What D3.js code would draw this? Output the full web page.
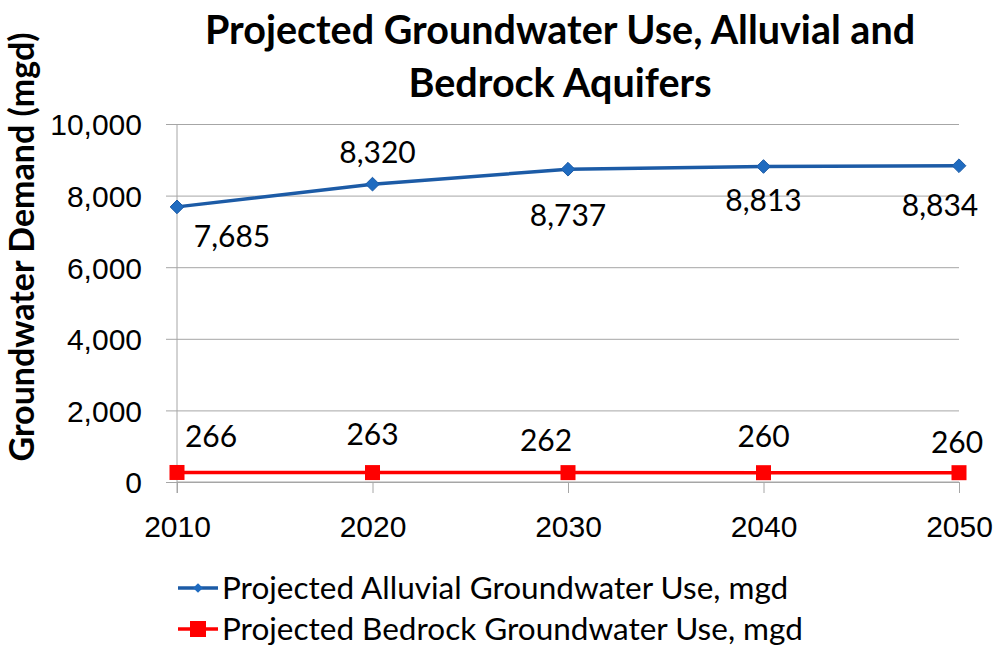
<!DOCTYPE html>
<html>
<head>
<meta charset="utf-8">
<script src="https://cdn.jsdelivr.net/npm/d3@7"></script>
<style>
  body { margin: 0; background: #fff; }
  svg { font-family: Lato, "Open Sans", sans-serif; }
</style>
</head>
<body>
<svg id="chart" width="997" height="648"></svg>
<script>
var years = [2010, 2020, 2030, 2040, 2050];
var alluvial = [7685, 8320, 8737, 8813, 8834];
var bedrock = [266, 263, 262, 260, 260];
var yTicks = [0, 2000, 4000, 6000, 8000, 10000];
var seriesNames = [
  "Projected Alluvial Groundwater Use, mgd",
  "Projected Bedrock Groundwater Use, mgd",
];

var dimensions = {
  width: 997,
  height: 648,
  margin: { top: 124, right: 38, bottom: 166, left: 177 },
};

var svg = d3.select("#chart");

var xScale = d3
  .scalePoint()
  .domain(years)
  .range([dimensions.margin.left, dimensions.width - dimensions.margin.right]);

var yScale = d3
  .scaleLinear()
  .domain([0, 10000])
  .range([dimensions.height - dimensions.margin.bottom, dimensions.margin.top]);

// gridlines + y labels
var yAxisgen = d3
  .axisLeft(yScale)
  .tickValues(yTicks)
  .tickSize(-(xScale.range()[1] - xScale.range()[0]) - 11)
  .tickPadding(24)
  .tickFormat(d3.format(","));
var yAxis = svg
  .append("g")
  .attr("transform", `translate(${dimensions.margin.left - 11},0)`)
  .call(yAxisgen);
yAxis.select(".domain").remove();
yAxis.selectAll("line").attr("stroke", "#a6a6a6");
yAxis.selectAll("text").attr("font-size", 30).attr("fill", "#000").attr("dy", "0.36em");

// vertical axis line
svg
  .append("line")
  .attr("x1", dimensions.margin.left)
  .attr("x2", dimensions.margin.left)
  .attr("y1", yScale(10000))
  .attr("y2", yScale(0) + 11)
  .attr("stroke", "#a6a6a6");

// x axis
var xAxisgen = d3.axisBottom(xScale).tickSize(11).tickPadding(22);
var xAxis = svg
  .append("g")
  .attr("transform", `translate(0,${yScale(0)})`)
  .call(xAxisgen);
xAxis.select(".domain").attr("stroke", "#a6a6a6").attr("d", `M${xScale(2010)},0H${xScale(2050)}`);
xAxis.selectAll("line").attr("stroke", "#a6a6a6");
xAxis.selectAll("text").attr("font-size", 30).attr("fill", "#000").attr("dy", "0.72em");

// title
svg
  .append("text")
  .attr("text-anchor", "middle")
  .attr("font-size", 39.5)
  .attr("font-weight", "bold")
  .selectAll("tspan")
  .data(["Projected Groundwater Use, Alluvial and", "Bedrock Aquifers"])
  .enter()
  .append("tspan")
  .attr("x", 560)
  .attr("y", (d, i) => 44 + i * 53)
  .text((d) => d);

// y axis title
svg
  .append("text")
  .attr("transform", "translate(34,247) rotate(-90)")
  .attr("text-anchor", "middle")
  .attr("font-size", 34)
  .attr("font-weight", "bold")
  .text("Groundwater Demand (mgd)");

var line = d3
  .line()
  .x((d, i) => xScale(years[i]))
  .y((d) => yScale(d));

// alluvial
svg
  .append("path")
  .datum(alluvial)
  .attr("d", line)
  .attr("fill", "none")
  .attr("stroke", "#1c5ba6")
  .attr("stroke-width", 3.5);
svg
  .selectAll(".diamond")
  .data(alluvial)
  .enter()
  .append("path")
  .attr("d", d3.symbol(d3.symbolDiamond2, 120))
  .attr("transform", (d, i) => `translate(${xScale(years[i])},${yScale(d)})`)
  .attr("fill", "#1f6bc0")
  .attr("stroke", "#1c5ba6")
  .attr("stroke-width", 1);

// bedrock
svg
  .append("path")
  .datum(bedrock)
  .attr("d", line)
  .attr("fill", "none")
  .attr("stroke", "#ff0000")
  .attr("stroke-width", 3.5);
svg
  .selectAll(".square")
  .data(bedrock)
  .enter()
  .append("rect")
  .attr("x", (d, i) => xScale(years[i]) - 7.5)
  .attr("y", (d) => yScale(d) - 7.5)
  .attr("width", 15)
  .attr("height", 15)
  .attr("fill", "#ff0000");

// data labels (offsets as Excel placed them)
var alluvialOffsets = [[55, 40], [5, -21], [0, 57], [0, 45], [-19, 50]];
var bedrockOffsets = [[34, -25], [0, -28], [-22, -22], [0, -26], [-2, -20]];

svg
  .selectAll(".alab")
  .data(alluvial)
  .enter()
  .append("text")
  .attr("x", (d, i) => xScale(years[i]) + alluvialOffsets[i][0])
  .attr("y", (d, i) => yScale(d) + alluvialOffsets[i][1])
  .attr("text-anchor", "middle")
  .attr("font-size", 30)
  .text((d) => d3.format(",")(d));

svg
  .selectAll(".blab")
  .data(bedrock)
  .enter()
  .append("text")
  .attr("x", (d, i) => xScale(years[i]) + bedrockOffsets[i][0])
  .attr("y", (d, i) => yScale(d) + bedrockOffsets[i][1])
  .attr("text-anchor", "middle")
  .attr("font-size", 30)
  .text((d) => d);

// legend
var legend = svg
  .selectAll(".legend")
  .data(seriesNames)
  .enter()
  .append("g")
  .attr("transform", (d, i) => `translate(178,${588 + i * 41})`);
legend
  .append("line")
  .attr("x1", 0)
  .attr("x2", 40)
  .attr("stroke", (d, i) => (i == 0 ? "#1c5ba6" : "#ff0000"))
  .attr("stroke-width", 3.5);
legend
  .filter((d, i) => i == 0)
  .append("path")
  .attr("d", d3.symbol(d3.symbolDiamond2, 60))
  .attr("transform", "translate(20,0)")
  .attr("fill", "#1f6bc0");
legend
  .filter((d, i) => i == 1)
  .append("rect")
  .attr("x", 12)
  .attr("y", -8)
  .attr("width", 16)
  .attr("height", 16)
  .attr("fill", "#ff0000");
legend
  .append("text")
  .attr("x", 44)
  .attr("dy", "0.36em")
  .attr("font-size", 31.5)
  .text((d) => d);
</script>
</body>
</html>
